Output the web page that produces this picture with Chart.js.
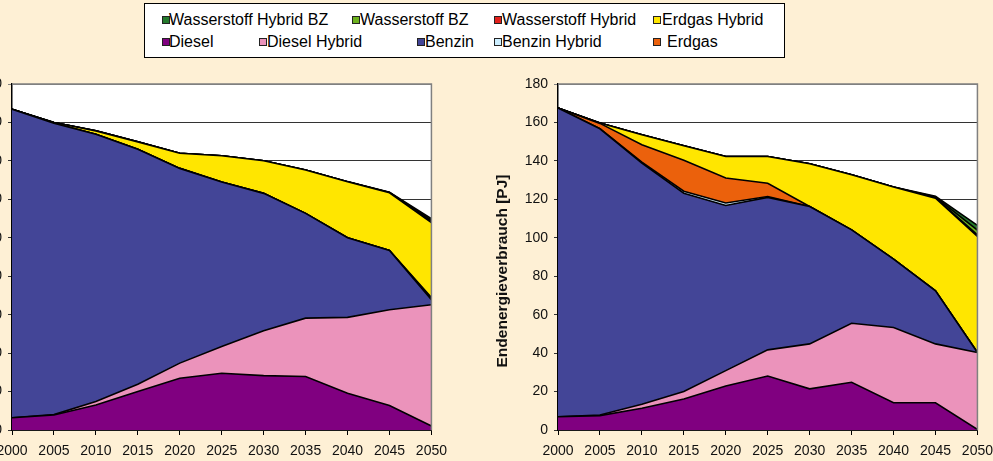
<!DOCTYPE html>
<html>
<head>
<meta charset="utf-8">
<script src="https://cdn.jsdelivr.net/npm/chart.js@4.4.1/dist/chart.umd.min.js"></script>
<style>
  html, body { margin: 0; padding: 0; }
  body { width: 993px; height: 461px; overflow: hidden; position: relative; background: #fef0d5; font-family: "Liberation Sans", Arial, sans-serif; }
  .box { position: absolute; top: 0; width: 521px; height: 461px; }
  #legend { position: absolute; left: 144px; top: 3px; width: 639px; height: 53px; border: 1px solid #000; background: #fff; }
  .sq { position: absolute; width: 6px; height: 6px; border: 1px solid #222; }
  .lb { position: absolute; font-size: 16px; line-height: 18px; color: #000; white-space: nowrap; }
</style>
</head>
<body>
<div id="legend"></div>
<div class="box" style="left:-66px"><canvas id="leftChart" width="521" height="461"></canvas></div>
<div class="box" style="left:480px"><canvas id="rightChart" width="521" height="461"></canvas></div>

<script>
const years = ['2000', '2005', '2010', '2015', '2020', '2025', '2030', '2035', '2040', '2045', '2050'];

// bottom to top
const seriesNames = ['Diesel', 'Diesel Hybrid', 'Benzin', 'Benzin Hybrid', 'Erdgas', 'Erdgas Hybrid',
  'Wasserstoff Hybrid', 'Wasserstoff BZ', 'Wasserstoff Hybrid BZ'];
const seriesColors = ['#800080', '#eb93bb', '#434597', '#cceeff', '#eb610c', '#ffe600',
  '#e3201b', '#6db21e', '#247a2c'];

// left chart [PJ]
const leftDiesel        = [6.4, 7.8, 13.0, 20.0, 26.9, 29.5, 28.3, 27.8, 19.1, 12.7, 2.1];
const leftDieselHybrid  = [0, 0.2, 1.8, 3.8, 7.9, 14.0, 23.3, 30.4, 39.5, 49.9, 63.1];
const leftBenzin        = [160.5, 151.6, 139.1, 122.3, 101.3, 85.5, 71.5, 54.5, 41.4, 30.8, 2.6];
const leftBenzinHybrid  = [0, 0, 0, 0, 0, 0, 0, 0, 0, 0, 0.5];
const leftErdgas        = [0, 0, 0, 0, 0, 0, 0, 0, 0, 0, 0.6];
const leftErdgasHybrid  = [0, 0.4, 1.7, 3.8, 7.9, 13.7, 17.0, 22.6, 29.2, 30.0, 39.0];
const leftWHybrid       = [0, 0, 0, 0, 0, 0, 0, 0, 0, 0.1, 0.6];
const leftWBZ           = [0, 0, 0, 0, 0, 0, 0, 0, 0, 0.1, 0.7];
const leftWHybridBZ     = [0, 0, 0, 0, 0, 0, 0, 0, 0, 0.1, 0.8];

// right chart [PJ]
const rightDiesel       = [6.9, 7.5, 11.3, 16.1, 22.9, 28.1, 21.4, 24.8, 14.2, 14.2, 0.3];
const rightDieselHybrid = [0, 0.3, 2.1, 3.9, 8.0, 13.6, 23.4, 30.7, 39.1, 30.6, 40.0];
const rightBenzin       = [160.6, 148.9, 125.5, 103.2, 85.9, 79.3, 71.5, 48.6, 35.6, 27.6, 0];
const rightBenzinHybrid = [0, 0, 0.5, 1.0, 1.3, 0.5, 0, 0, 0, 0, 0];
const rightErdgas       = [0, 2.8, 9.0, 16.1, 13.0, 6.9, 0, 0, 0, 0, 0];
const rightErdgasHybrid = [0, 0.2, 5.2, 7.6, 11.2, 13.9, 22.2, 28.7, 37.5, 48.2, 60.4];
const rightWHybrid      = [0, 0, 0, 0, 0, 0, 0, 0, 0, 0.2, 0.8];
const rightWBZ          = [0, 0, 0, 0, 0, 0, 0, 0, 0, 0.4, 2.5];
const rightWHybridBZ    = [0, 0, 0, 0, 0, 0, 0, 0, 0, 0.4, 2.5];

const yTitle = 'Endenergieverbrauch [PJ]';

// legend, same order as in the picture
const legendOrder = [8, 7, 6, 5, 0, 1, 2, 3, 4];
const legendPos = [[162, 169, 20], [352, 360, 20], [494, 502, 20], [653, 662, 20],
                   [162, 169, 42], [259, 267, 42], [417, 425, 42], [494, 502, 42], [653, 667, 42]];

const legend = document.getElementById('legend');
legendOrder.forEach((idx, i) => {
  const p = legendPos[i];
  const sq = document.createElement('div');
  sq.className = 'sq';
  sq.style.left = (p[0] - 145) + 'px';
  sq.style.top = (p[2] - 4 - 4) + 'px';
  sq.style.background = seriesColors[idx];
  legend.appendChild(sq);
  const lb = document.createElement('div');
  lb.className = 'lb';
  lb.style.left = (p[1] - 145) + 'px';
  lb.style.top = (p[2] - 9 - 4) + 'px';
  lb.textContent = seriesNames[idx];
  legend.appendChild(lb);
});

const plotFrame = {
  id: 'plotFrame',
  beforeDraw(chart) {
    const a = chart.chartArea, c = chart.ctx;
    c.save();
    c.fillStyle = '#ffffff';
    c.fillRect(a.left, a.top, a.right - a.left, a.bottom - a.top);
    c.restore();
  },
  afterDatasetsDraw(chart) {
    const a = chart.chartArea, c = chart.ctx;
    c.save();
    c.strokeStyle = '#808080';
    c.lineWidth = 1.5;
    c.beginPath();
    c.moveTo(a.left, a.top);
    c.lineTo(a.right, a.top);
    c.lineTo(a.right, a.bottom);
    c.stroke();
    // y axis title
    c.translate(23, (a.top + a.bottom) / 2 + 14);
    c.rotate(-Math.PI / 2);
    c.font = 'bold 15.5px "Liberation Sans", Arial, sans-serif';
    c.fillStyle = '#111';
    c.textAlign = 'center';
    c.textBaseline = 'middle';
    c.fillText(yTitle, 0, 0);
    c.restore();
  }
};

function makeChart(id, series) {
  new Chart(document.getElementById(id), {
    type: 'line',
    data: {
      labels: years,
      datasets: series.map((vals, i) => ({
        label: seriesNames[i],
        data: vals,
        backgroundColor: seriesColors[i],
        borderColor: '#000',
        borderWidth: 1.6,
        pointRadius: 0,
        tension: 0,
        fill: i === 0 ? 'origin' : '-1'
      }))
    },
    options: {
      responsive: false,
      animation: false,
      layout: { padding: { top: 84, right: 0, left: 0, bottom: 0 } },
      plugins: { legend: { display: false }, tooltip: { enabled: false } },
      scales: {
        x: {
          grid: { drawOnChartArea: false, drawTicks: true, tickLength: 5, color: '#000' },
          border: { color: '#000', width: 1.5 },
          ticks: { color: '#111', font: { family: '"Liberation Sans", Arial, sans-serif', size: 14 }, padding: 8, maxRotation: 0, autoSkip: false },
          afterFit(s) { s.height = 31; }
        },
        y: {
          stacked: true,
          min: 0,
          max: 180,
          ticks: { stepSize: 20, color: '#111', font: { family: '"Liberation Sans", Arial, sans-serif', size: 14 }, padding: 6 },
          grid: { color: ctx => (ctx.tick && ctx.tick.value === 180) ? '#808080' : '#333', tickLength: 4, lineWidth: 1 },
          border: { color: '#000', width: 1.5 },
          afterFit(s) { s.width = 78; }
        }
      }
    },
    plugins: [plotFrame]
  });
}

makeChart('leftChart', [leftDiesel, leftDieselHybrid, leftBenzin, leftBenzinHybrid, leftErdgas,
  leftErdgasHybrid, leftWHybrid, leftWBZ, leftWHybridBZ]);
makeChart('rightChart', [rightDiesel, rightDieselHybrid, rightBenzin, rightBenzinHybrid, rightErdgas,
  rightErdgasHybrid, rightWHybrid, rightWBZ, rightWHybridBZ]);
</script>
</body>
</html>
